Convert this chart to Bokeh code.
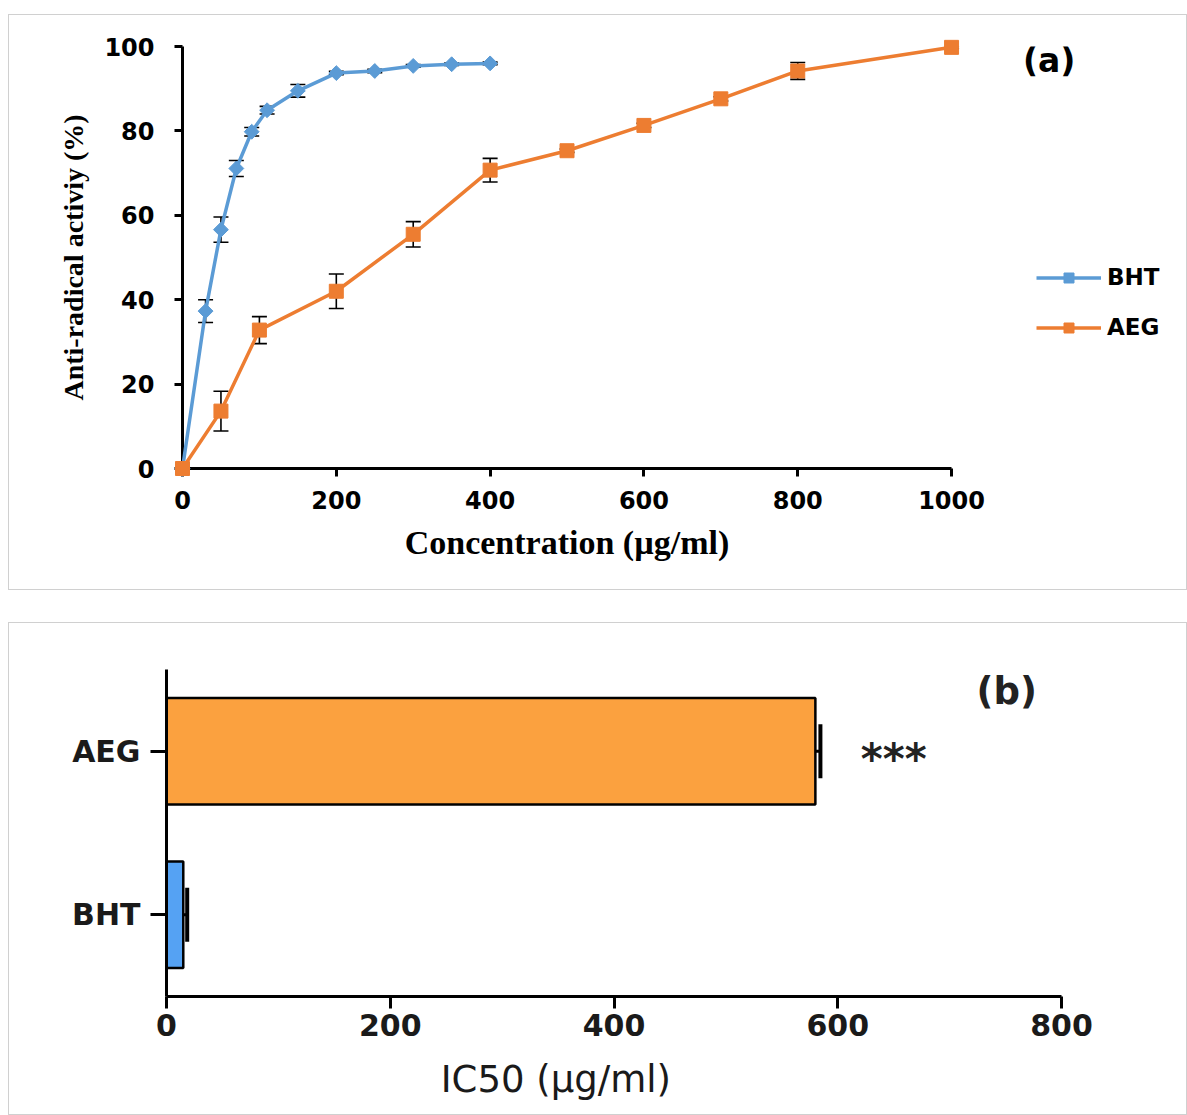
from bokeh.plotting import figure
from bokeh.models import (ColumnDataSource, Whisker, TeeHead, Legend, LegendItem,
                          Label, FixedTicker, Range1d, FactorRange)
from bokeh.core.properties import value
from bokeh.embed import file_html
from bokeh.resources import INLINE
import math

# ---------------- data (panel a) ----------------
bht_conc = [0, 30, 50, 70, 90, 110, 150, 200, 250, 300, 350, 400]
bht_act = [0, 37.3, 56.6, 71.1, 79.8, 84.9, 89.5, 93.7, 94.2, 95.4, 95.8, 96.0]
bht_err = [0, 2.7, 3.0, 1.9, 1.0, 0.9, 1.5, 0.4, 0.4, 0.3, 0.3, 0.3]

aeg_conc = [0, 50, 100, 200, 300, 400, 500, 600, 700, 800, 1000]
aeg_act = [0, 13.6, 32.8, 42.0, 55.5, 70.7, 75.3, 81.3, 87.6, 94.2, 99.8]
aeg_err = [0, 4.7, 3.2, 4.1, 3.0, 2.8, 0.4, 0.5, 0.5, 2.0, 0.3]

x_ticks_a = [0, 200, 400, 600, 800, 1000]
y_ticks_a = [0, 20, 40, 60, 80, 100]

# ---------------- data (panel b) ----------------
groups = ["BHT", "AEG"]
ic50 = [15, 580]
ic50_err = [3.5, 4.5]
bar_colors = ["#55A2F3", "#FBA13F"]
x_ticks_b = [0, 200, 400, 600, 800]

BLUE = "#5B9BD5"
ORANGE = "#ED7D31"

# ================= Panel (a) =================
# frame spans 999 px; axis 0..1000 occupies 769 px of it (extra room for legend)
p1 = figure(width=1179, height=576, output_backend="svg", toolbar_location=None,
            x_range=Range1d(0, 1299), y_range=Range1d(0, 100))
p1.margin = (14, 0, 0, 8)
p1.styles = {"border": "1px solid #d0d0d0"}
p1.min_border_left = 173
p1.min_border_right = 7
p1.min_border_top = 31
p1.min_border_bottom = 123
p1.outline_line_color = None
p1.xgrid.visible = False
p1.ygrid.visible = False
p1.background_fill_color = "white"
p1.border_fill_color = "white"

for ax in (p1.xaxis[0], p1.yaxis[0]):
    ax.axis_line_width = 3
    ax.axis_line_color = "black"
    ax.major_tick_line_width = 3
    ax.major_tick_line_color = "black"
    ax.major_tick_out = 8
    ax.major_tick_in = 0
    ax.minor_tick_line_color = None
    ax.major_label_text_font = "DejaVu Sans"
    ax.major_label_text_font_style = "bold"
    ax.major_label_text_font_size = "24px"
    ax.major_label_text_color = "black"

p1.xaxis.bounds = (0, 1000)
p1.xaxis.ticker = FixedTicker(ticks=x_ticks_a)
p1.yaxis.ticker = FixedTicker(ticks=y_ticks_a)
p1.yaxis.axis_label = "Anti-radical activiy (%)"
p1.yaxis.axis_label_text_font = "Liberation Serif"
p1.yaxis.axis_label_text_font_style = "bold"
p1.yaxis.axis_label_text_color = "black"
p1.yaxis.axis_label_text_font_size = "28px"
p1.xaxis.major_label_standoff = 14
p1.yaxis.major_label_standoff = 20
p1.yaxis.axis_label_standoff = 12

# x-axis title, centred under the 0..1000 axis line
p1.text(x=[500], y=[-17.5], text=["Concentration (µg/ml)"],
        text_font=value("Liberation Serif"), text_font_style="bold",
        text_font_size="34px", text_color="black", text_align="center",
        text_baseline="middle", level="overlay")

src_b = ColumnDataSource(dict(x=bht_conc, y=bht_act,
                              lo=[a - e for a, e in zip(bht_act, bht_err)],
                              hi=[a + e for a, e in zip(bht_act, bht_err)]))
src_a = ColumnDataSource(dict(x=aeg_conc, y=aeg_act,
                              lo=[a - e for a, e in zip(aeg_act, aeg_err)],
                              hi=[a + e for a, e in zip(aeg_act, aeg_err)]))

for s in (src_b, src_a):
    w = Whisker(source=s, base="x", lower="lo", upper="hi", dimension="height",
                line_color="black", line_width=1.6, level="annotation",
                upper_head=TeeHead(size=15, line_width=1.6, line_color="black"),
                lower_head=TeeHead(size=15, line_width=1.6, line_color="black"))
    p1.add_layout(w)

l_b = p1.line("x", "y", source=src_b, line_color=BLUE, line_width=3.5, level="overlay")
m_b = p1.scatter("x", "y", source=src_b, marker="square", angle=math.pi / 4,
                 size=10.5, fill_color=BLUE, line_color=BLUE, level="overlay")
l_a = p1.line("x", "y", source=src_a, line_color=ORANGE, line_width=3.5, level="overlay")
m_a = p1.scatter("x", "y", source=src_a, marker="square", size=14,
                 fill_color=ORANGE, line_color=ORANGE, level="overlay")

legend = Legend(items=[LegendItem(label="BHT", renderers=[l_b, m_b]),
                       LegendItem(label="AEG", renderers=[l_a, m_a])],
                location=(854, 128), orientation="vertical",
                glyph_width=65, glyph_height=25, label_height=25,
                spacing=24, padding=0, margin=0, label_standoff=6,
                label_text_font="DejaVu Sans", label_text_font_style="bold",
                label_text_font_size="23px", label_text_color="black",
                border_line_color=None, background_fill_alpha=0)
p1.add_layout(legend)

p1.add_layout(Label(x=1127, y=96.8, text="(a)", text_align="center",
                    text_baseline="middle", text_font="DejaVu Sans",
                    text_font_style="bold", text_font_size="33px",
                    text_color="black"))

# ================= Panel (b) =================
p2 = figure(width=1179, height=493, output_backend="svg", toolbar_location=None,
            x_range=Range1d(0, 800), y_range=FactorRange(*groups,
                                                        range_padding=0))
p2.margin = (32, 0, 0, 8)
p2.styles = {"border": "1px solid #d0d0d0"}
p2.min_border_left = 157
p2.min_border_right = 127
p2.min_border_top = 46
p2.min_border_bottom = 120
p2.outline_line_color = None
p2.xgrid.visible = False
p2.ygrid.visible = False

for ax in (p2.xaxis[0], p2.yaxis[0]):
    ax.axis_line_width = 3
    ax.axis_line_color = "black"
    ax.major_tick_line_width = 3
    ax.major_tick_line_color = "black"
    ax.major_tick_in = 0
    ax.minor_tick_line_color = None
    ax.major_label_text_font = "DejaVu Sans"
    ax.major_label_text_font_style = "bold"
    ax.major_label_text_font_size = "30px"
    ax.major_label_text_color = "#1a1a1a"

p2.xaxis.major_tick_out = 12
p2.yaxis.major_tick_out = 16
p2.xaxis.ticker = FixedTicker(ticks=x_ticks_b)
p2.xaxis.major_label_standoff = 5
p2.yaxis.major_label_standoff = 10

# x-axis title (as in the reference, sits left of the axis centre)
p2.text(x=[348], y=[-0.505], text=["IC50 (µg/ml)"],
        text_font=value("DejaVu Sans"), text_font_size="37px",
        text_color="#1a1a1a", text_align="center", text_baseline="middle",
        level="overlay")

src_bar = ColumnDataSource(dict(g=groups, v=ic50, c=bar_colors,
                                hi=[v + e for v, e in zip(ic50, ic50_err)]))
p2.hbar(y="g", right="v", left=0, height=0.65, source=src_bar,
        fill_color="c", line_color="black", line_width=2.5)
p2.add_layout(Whisker(source=src_bar, base="g", lower="v", upper="hi",
                      dimension="width", line_color="black", line_width=3,
                      lower_head=None,
                      upper_head=TeeHead(size=54, line_width=4, line_color="black")))

p2.add_layout(Label(x=650, y=1.5, text="***", text_align="center",
                    text_baseline="middle", y_offset=-8,
                    text_font="DejaVu Sans", text_font_style="bold",
                    text_font_size="42px", text_color="#222222"))
p2.add_layout(Label(x=751, y=1.865, text="(b)", text_align="center",
                    text_baseline="middle", text_font="DejaVu Sans",
                    text_font_style="bold", text_font_size="37px",
                    text_color="#222222"))

open("out.html", "w").write(file_html([p1, p2], INLINE))
